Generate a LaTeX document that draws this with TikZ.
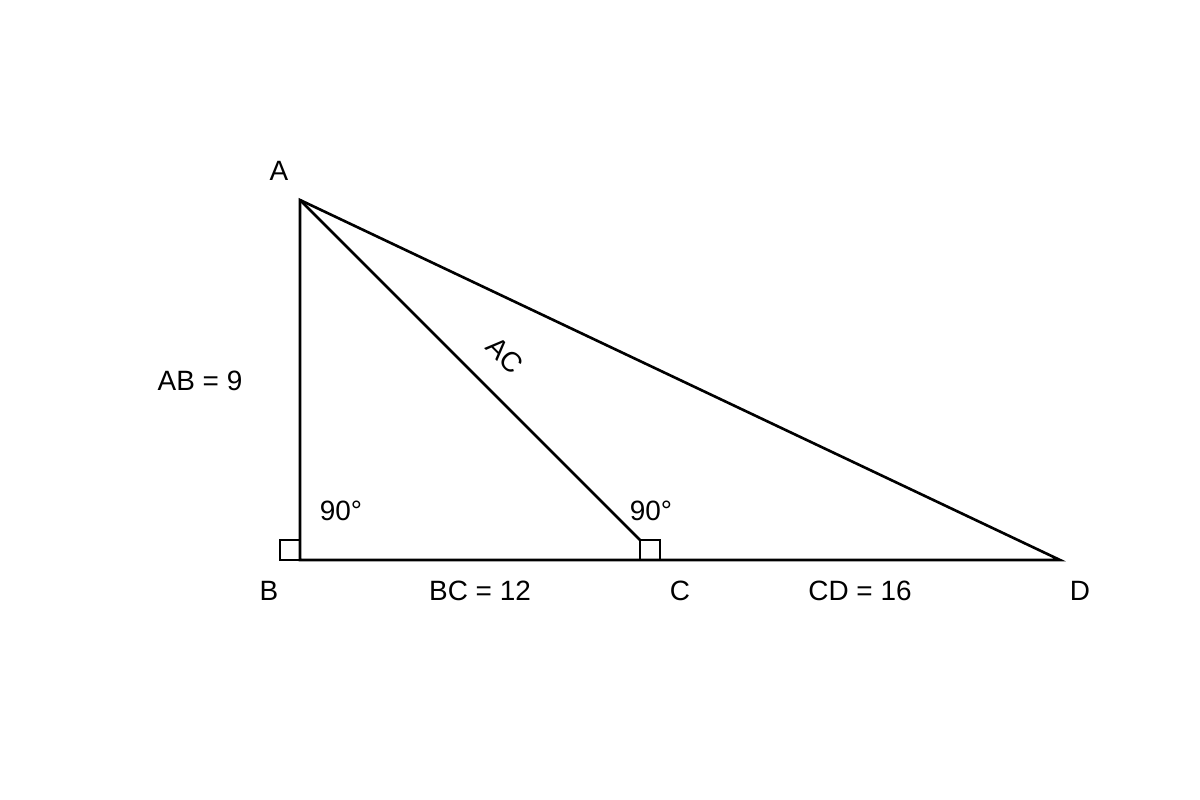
\documentclass[tikz,border=0pt]{standalone}
\usepackage{fontspec}
\setmainfont{Liberation Sans}
\usepackage{tikz}
\usetikzlibrary{positioning}

\begin{document}
\begin{tikzpicture}
[x=0.02cm,y=-0.02cm, empt node/.style={inner
    sep=0pt,outer sep=0pt,font=\fontsize{15.9}{19}\selectfont}, sq
  node/.style={rectangle,draw,line width=0.7pt,minimum width=0.4cm,minimum
    height=0.4cm, inner sep=0pt, outer sep=0pt}, side/.style={line width=1.5pt}]

    \useasboundingbox (0,0) rectangle (1200,800);

    \coordinate (A) at (300,200);
    \coordinate (B) at (300,560);
    \coordinate (C) at (640,560);
    \coordinate (D) at (1060,560);

    \node [sq node, anchor=south east] (sqB) at (B) {};
    \node [sq node, anchor=south west] (sqC) at (C) {};

    \draw[side] (A) -- (B) -- (D) -- cycle;
    \draw[side] (A) -- (sqC.north west);

    \node [empt node] (a) at (279,171) {A};
    \node [empt node] (b) at (269,591) {B};
    \node [empt node] (c) at (680,591) {C};
    \node [empt node] (d) at (1080,591) {D};
    \node [empt node] (ab) at (200,381) {AB = 9};
    \node [empt node] (bc) at (480,591) {BC = 12};
    \node [empt node] (cd) at (860,591) {CD = 16};
    \node [empt node] (angB) at (341,511) {90°};
    \node [empt node] (angC) at (651,511) {90°};
    \node [empt node, rotate=-45] (ac) at (505,355) {AC};
\end{tikzpicture}
\end{document}
